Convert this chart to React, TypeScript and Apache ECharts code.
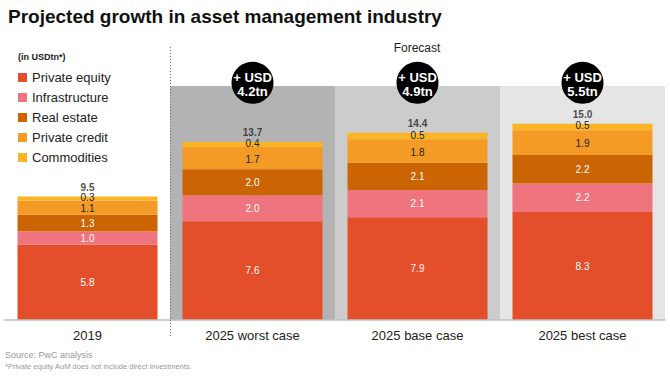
import React, { useEffect, useRef } from "react";
import * as echarts from "echarts";

const categories = ["2019", "2025 worst case", "2025 base case", "2025 best case"];
const privateEquity = [5.8, 7.6, 7.9, 8.3];
const infrastructure = [1.0, 2.0, 2.1, 2.2];
const realEstate = [1.3, 2.0, 2.1, 2.2];
const privateCredit = [1.1, 1.7, 1.8, 1.9];
const commodities = [0.3, 0.4, 0.5, 0.5];
const totals = ["9.5", "13.7", "14.4", "15.0"];
const growth = [null, "4.2", "4.9", "5.5"];
const bandLevel = [null, 18, 18, 18];
const bandColors = ["#ffffff", "#b3b3b3", "#cccccc", "#e5e5e5"];
const circleLevel = 18.25;
const yMax = 18;

const FONT = "'Liberation Sans', Arial, Helvetica, sans-serif";

export default function App() {
  const ref = useRef<HTMLDivElement>(null);
  useEffect(() => {
    if (!ref.current) return;
    const chart = echarts.init(ref.current, null, { renderer: "svg" });
    const sums = categories.map((_, i) =>
      +(privateEquity[i] + infrastructure[i] + realEstate[i] + privateCredit[i] + commodities[i]).toFixed(2)
    );
    const seg = (name: string, data: number[], color: string, labelColor: string, dy: number) => ({
      name,
      type: "bar",
      stack: "total",
      data,
      barWidth: 140,
      itemStyle: { color },
      z: 3,
      label: {
        show: true,
        position: "inside",
        offset: [0, dy],
        fontSize: 10,
        lineHeight: 9,
        fontFamily: FONT,
        color: labelColor,
        formatter: (p: any) => p.value.toFixed(1),
      },
    });
    chart.setOption({
      animation: false,
      textStyle: { fontFamily: FONT },
      grid: { left: 5, right: 5, top: 86, bottom: 57 },
      xAxis: [
        {
          type: "category",
          data: categories,
          axisTick: { show: false },
          axisLine: { lineStyle: { color: "#c0c0c0", width: 1.5 } },
          axisLabel: { fontSize: 13, color: "#222", margin: 9, fontFamily: FONT },
          z: 5,
        },
        { type: "category", data: categories, show: false },
      ],
      yAxis: { type: "value", min: 0, max: yMax, show: false, splitLine: { show: false } },
      legend: {
        orient: "vertical",
        left: 18,
        top: 71,
        padding: 0,
        itemWidth: 9,
        itemHeight: 9,
        itemGap: 7,
        icon: "rect",
        selectedMode: false,
        textStyle: { fontSize: 13, color: "#222", fontFamily: FONT },
        data: ["Private equity", "Infrastructure", "Real estate", "Private credit", "Commodities"],
      },
      series: [
        {
          name: "bands",
          type: "bar",
          xAxisIndex: 1,
          barWidth: "100%",
          z: 1,
          silent: true,
          data: bandLevel.map((v, i) => ({ value: v, itemStyle: { color: bandColors[i] } })),
        },
        seg("Private equity", privateEquity, "#e44f2b", "#ffffff", 0),
        seg("Infrastructure", infrastructure, "#ef747e", "#ffffff", 0),
        seg("Real estate", realEstate, "#cb6504", "#ffffff", 0),
        seg("Private credit", privateCredit, "#f49b25", "#222222", 1),
        seg("Commodities", commodities, "#fbb424", "#222222", -1),
        {
          name: "totals",
          type: "scatter",
          symbolSize: 0,
          z: 4,
          data: sums,
          label: {
            show: true,
            position: "top",
            distance: 4,
            fontSize: 10,
            fontWeight: "bold",
            color: "#222",
            fontFamily: FONT,
            formatter: (p: any) => totals[p.dataIndex],
          },
        },
        {
          name: "growth",
          type: "scatter",
          clip: false,
          symbol: "circle",
          symbolSize: 42,
          z: 6,
          itemStyle: { color: "#000", opacity: 1 },
          data: growth.map((g) => (g === null ? null : circleLevel)),
          label: {
            show: true,
            position: "inside",
            offset: [0, 2],
            fontSize: 13,
            fontWeight: "bold",
            lineHeight: 14,
            color: "#fff",
            fontFamily: FONT,
            formatter: (p: any) => "+ USD\n" + growth[p.dataIndex] + "tn",
          },
        },
      ],
      graphic: [
        {
          type: "text",
          left: 8,
          top: 7,
          style: { text: "Projected growth in asset management industry", font: `bold 19px ${FONT}`, fill: "#111" },
        },
        {
          type: "text",
          left: 18,
          top: 52,
          style: { text: "(in USDtn*)", font: `bold 9px ${FONT}`, fill: "#222" },
        },
        {
          type: "text",
          x: 417,
          y: 48,
          style: { text: "Forecast", font: `12px ${FONT}`, fill: "#222", align: "center", verticalAlign: "middle" },
        },
        {
          type: "line",
          shape: { x1: 170.5, y1: 47, x2: 170.5, y2: 337 },
          style: { stroke: "#777", lineWidth: 1, lineDash: [1, 2] },
          z: 10,
        },
        {
          type: "text",
          left: 5,
          top: 350,
          style: { text: "Source: PwC analysis", font: `9px ${FONT}`, fill: "#999" },
        },
        {
          type: "text",
          left: 5,
          top: 362,
          style: { text: "*Private equity AuM does not include direct investments.", font: `7.5px ${FONT}`, fill: "#999" },
        },
      ],
    });
    return () => chart.dispose();
  }, []);
  return (
    <div
      ref={ref}
      style={{ position: "fixed", left: 0, top: 0, width: 670, height: 377, background: "#fff" }}
    />
  );
}
